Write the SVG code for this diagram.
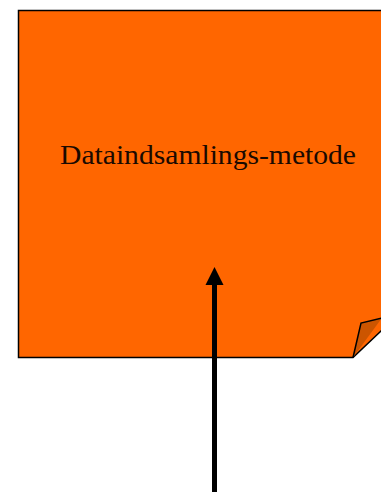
<svg xmlns="http://www.w3.org/2000/svg" width="381" height="492" viewBox="0 0 381 492">
<style>
.note{fill:#FF6600;stroke:#000;stroke-width:1.5}
.curl{fill:#CC5500;stroke:#000;stroke-width:1.5;stroke-linejoin:miter}
.lbl{font-family:"Liberation Serif",serif;font-size:27px;fill:#1a0a00}
.conn{stroke:#000;stroke-width:5;fill:none}
</style>
<defs>
<marker id="ah" markerUnits="userSpaceOnUse" markerWidth="20" markerHeight="20" refX="0" refY="10" orient="auto" viewBox="0 0 20 20">
<path d="M0,1 L18,10 L0,19 Z" fill="#000"/>
</marker>
</defs>
<g id="node1">
<path class="note" d="M18.5,10.5 H382 V330 L353,357.5 H18.5 Z"/>
<path class="curl" d="M353,357.5 L361,323 L382,318"/>
<text class="lbl" x="60" y="164" textLength="296" lengthAdjust="spacingAndGlyphs">Dataindsamlings-metode</text>
</g>
<g id="connectors">
<path class="conn" d="M214.5,492 V285" marker-end="url(#ah)"/>
</g>
</svg>
